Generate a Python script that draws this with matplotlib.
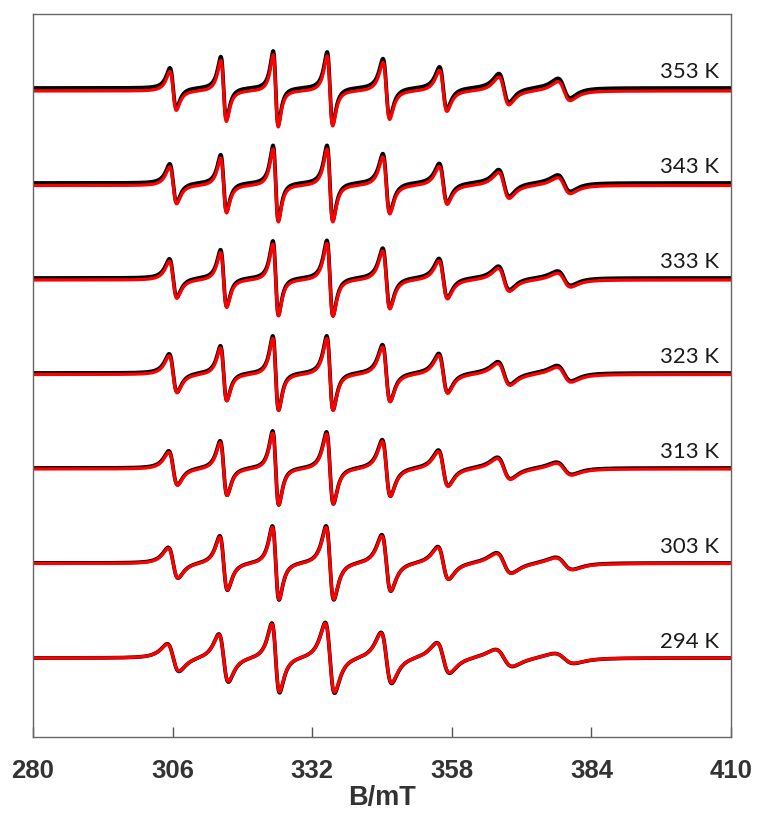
import numpy as np
import matplotlib.pyplot as plt
from matplotlib import font_manager

# temperatures (K), one spectrum each, stacked bottom -> top
temps = [294, 303, 313, 323, 333, 343, 353]

# hyperfine line positions (mT)
centers = [306.1, 315.5, 325.2, 335.3, 345.8, 356.4, 367.7, 378.9]

# peak-to-peak amplitudes (a.u.) of the 8 lines per temperature
amps = {
    294: [27, 47, 68, 69, 50, 30, 17, 10],
    303: [30, 53, 72, 72, 55, 32, 20, 12],
    313: [33, 53, 72, 70, 55, 35, 21, 12],
    323: [37, 53, 72, 72, 55, 38, 22, 15],
    333: [37, 55, 72, 73, 58, 38, 23, 14],
    343: [37, 55, 73, 73, 57, 38, 26, 16],
    353: [39, 61, 72, 70, 57, 41, 28, 19],
}

# peak-to-peak linewidths (mT)
widths = {
    294: [2.2, 1.8, 1.45, 1.75, 2.0, 2.4, 3.2, 3.7],
    303: [1.85, 1.45, 1.25, 1.45, 1.7, 2.05, 2.8, 3.2],
    313: [1.65, 1.3, 1.15, 1.3, 1.55, 1.85, 2.5, 2.9],
    323: [1.5, 1.2, 1.1, 1.2, 1.45, 1.7, 2.3, 2.7],
    333: [1.4, 1.15, 1.05, 1.15, 1.35, 1.6, 2.1, 2.5],
    343: [1.3, 1.1, 1.0, 1.1, 1.3, 1.5, 2.0, 2.4],
    353: [1.2, 1.05, 0.95, 1.05, 1.25, 1.4, 1.9, 2.3],
}

# baseline shift of the simulated trace relative to experiment
sim_shift = {294: 0.0, 303: -0.5, 313: -1.0, 323: -1.5, 333: -2.0, 343: -2.5, 353: -3.0}

spacing = 95.0


def lorentz_deriv(B, B0, app, wpp):
    # first-derivative Lorentzian scaled to a given peak-to-peak height
    gamma = wpp * np.sqrt(3) / 2
    u = (B - B0) / gamma
    return app * (-u / (1 + u ** 2) ** 2) / 0.6495


def spectrum(B, t, scale=1.0):
    y = np.zeros_like(B)
    for c, a, w in zip(centers, amps[t], widths[t]):
        y += lorentz_deriv(B, c, a * scale, w)
    return y


names = [f.name for f in font_manager.fontManager.ttflist]
tick_font = 'Liberation Sans Narrow' if 'Liberation Sans Narrow' in names else 'Liberation Sans'
tick_size = 21 if tick_font == 'Liberation Sans Narrow' else 18.5

fig = plt.figure(figsize=(7.57, 8.14), dpi=100)
ax = fig.add_axes([0.0436, 0.0946, 0.9221, 0.8882])

B = np.linspace(280, 410, 4000)
for i, t in enumerate(temps):
    off = i * spacing
    ax.plot(B, spectrum(B, t, 1.03) + off, color='black', lw=2.7, solid_capstyle='round')
    ax.plot(B, spectrum(B, t) + off + sim_shift[t], color='#ff0000', lw=2.3)
    ax.text(407.8, off + 16, f'{t} K', ha='right', va='center',
            fontsize=16, family='Lato', color='#1a1a1a')

ax.set_xlim(280, 410)
ax.set_ylim(-79, 6 * spacing + 74)
ax.set_xticks([280, 306, 332, 358, 384, 410])
ax.set_yticks([])
ax.tick_params(axis='x', direction='in', length=7, width=1, color='#555555', pad=16)
for lab in ax.get_xticklabels():
    lab.set_fontfamily(tick_font)
    lab.set_fontweight('bold')
    lab.set_fontsize(tick_size)
    lab.set_color('#333333')
for s in ax.spines.values():
    s.set_color('#666666')
    s.set_linewidth(1.0)

ax.set_xlabel('B/mT', fontsize=tick_size + 1, fontweight='bold', family=tick_font,
              color='#333333', va='center')
ax.xaxis.set_label_coords(0.5, -0.085)

fig.savefig('out.png', dpi=100)
